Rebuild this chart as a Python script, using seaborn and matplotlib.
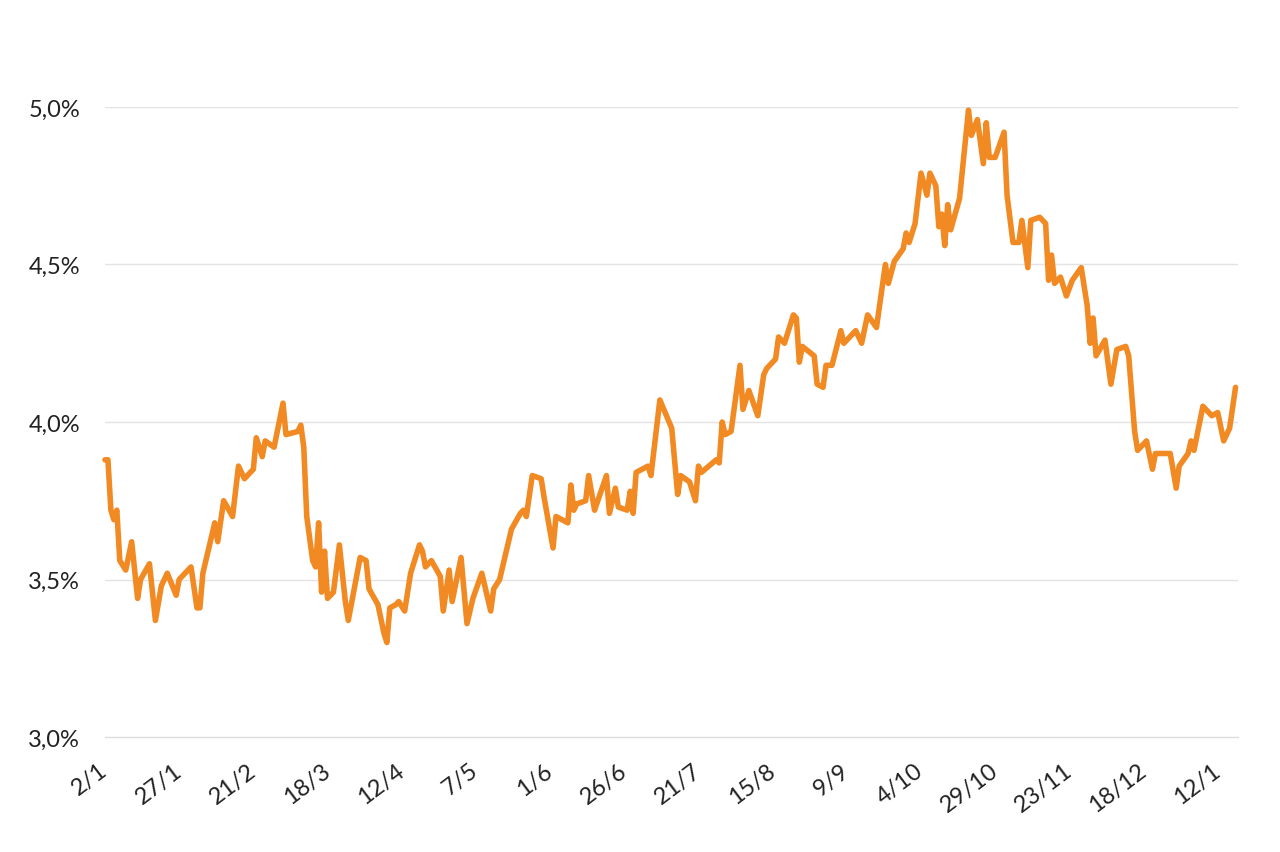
import matplotlib
matplotlib.use("Agg")
import matplotlib.pyplot as plt
import seaborn as sns
import pandas as pd

dates = [
    "2023-01-02", "2023-01-03", "2023-01-04", "2023-01-05", "2023-01-06", "2023-01-07",
    "2023-01-09", "2023-01-11", "2023-01-13", "2023-01-14", "2023-01-17", "2023-01-19",
    "2023-01-21", "2023-01-23", "2023-01-26", "2023-01-27", "2023-01-31", "2023-02-02",
    "2023-02-03", "2023-02-04", "2023-02-08", "2023-02-09", "2023-02-11", "2023-02-14",
    "2023-02-16", "2023-02-18", "2023-02-21", "2023-02-22", "2023-02-24", "2023-02-25",
    "2023-02-28", "2023-03-03", "2023-03-04", "2023-03-08", "2023-03-09", "2023-03-10",
    "2023-03-11", "2023-03-13", "2023-03-14", "2023-03-15", "2023-03-16", "2023-03-17",
    "2023-03-18", "2023-03-20", "2023-03-22", "2023-03-24", "2023-03-25", "2023-03-29",
    "2023-03-31", "2023-04-01", "2023-04-04", "2023-04-06", "2023-04-07", "2023-04-08",
    "2023-04-10", "2023-04-11", "2023-04-13", "2023-04-15", "2023-04-18", "2023-04-19",
    "2023-04-20", "2023-04-22", "2023-04-25", "2023-04-26", "2023-04-28", "2023-04-29",
    "2023-05-02", "2023-05-04", "2023-05-06", "2023-05-09", "2023-05-12", "2023-05-13",
    "2023-05-15", "2023-05-17", "2023-05-19", "2023-05-22", "2023-05-23", "2023-05-24",
    "2023-05-26", "2023-05-29", "2023-05-30", "2023-06-02", "2023-06-03", "2023-06-07",
    "2023-06-08", "2023-06-09", "2023-06-10", "2023-06-13", "2023-06-14", "2023-06-16",
    "2023-06-20", "2023-06-21", "2023-06-23", "2023-06-24", "2023-06-27", "2023-06-28",
    "2023-06-29", "2023-06-30", "2023-07-04", "2023-07-05", "2023-07-08", "2023-07-12",
    "2023-07-14", "2023-07-15", "2023-07-18", "2023-07-20", "2023-07-21", "2023-07-22",
    "2023-07-27", "2023-07-28", "2023-07-29", "2023-07-30", "2023-08-01", "2023-08-04",
    "2023-08-05", "2023-08-07", "2023-08-10", "2023-08-12", "2023-08-13", "2023-08-16",
    "2023-08-17", "2023-08-19", "2023-08-22", "2023-08-23", "2023-08-24", "2023-08-25",
    "2023-08-29", "2023-08-30", "2023-09-01", "2023-09-02", "2023-09-04", "2023-09-07",
    "2023-09-08", "2023-09-12", "2023-09-14", "2023-09-16", "2023-09-19", "2023-09-22",
    "2023-09-23", "2023-09-25", "2023-09-28", "2023-09-29", "2023-09-30", "2023-10-02",
    "2023-10-04", "2023-10-06", "2023-10-07", "2023-10-09", "2023-10-10", "2023-10-11",
    "2023-10-12", "2023-10-13", "2023-10-14", "2023-10-17", "2023-10-20", "2023-10-21",
    "2023-10-23", "2023-10-25", "2023-10-26", "2023-10-27", "2023-10-29", "2023-11-01",
    "2023-11-02", "2023-11-04", "2023-11-06", "2023-11-07", "2023-11-09", "2023-11-10",
    "2023-11-13", "2023-11-15", "2023-11-16", "2023-11-17", "2023-11-18", "2023-11-20",
    "2023-11-22", "2023-11-24", "2023-11-27", "2023-11-29", "2023-11-30", "2023-12-01",
    "2023-12-02", "2023-12-05", "2023-12-07", "2023-12-09", "2023-12-12", "2023-12-13",
    "2023-12-15", "2023-12-16", "2023-12-19", "2023-12-21", "2023-12-22", "2023-12-27",
    "2023-12-29", "2023-12-30", "2024-01-02", "2024-01-03", "2024-01-04", "2024-01-07",
    "2024-01-10", "2024-01-12", "2024-01-14", "2024-01-16", "2024-01-18",
]

yields = [
    3.88, 3.88, 3.72, 3.69, 3.72, 3.56,
    3.53, 3.62, 3.44, 3.50, 3.55, 3.37,
    3.48, 3.52, 3.45, 3.50, 3.54, 3.41,
    3.41, 3.52, 3.68, 3.62, 3.75, 3.70,
    3.86, 3.82, 3.85, 3.95, 3.89, 3.94,
    3.92, 4.06, 3.96, 3.97, 3.99, 3.92,
    3.70, 3.56, 3.54, 3.68, 3.46, 3.59,
    3.44, 3.46, 3.61, 3.43, 3.37, 3.57,
    3.56, 3.47, 3.42, 3.33, 3.30, 3.41,
    3.42, 3.43, 3.40, 3.52, 3.61, 3.59,
    3.54, 3.56, 3.51, 3.40, 3.53, 3.43,
    3.57, 3.36, 3.44, 3.52, 3.40, 3.47,
    3.50, 3.58, 3.66, 3.71, 3.72, 3.70,
    3.83, 3.82, 3.76, 3.60, 3.70, 3.68,
    3.80, 3.72, 3.74, 3.75, 3.83, 3.72,
    3.83, 3.71, 3.79, 3.73, 3.72, 3.78,
    3.71, 3.84, 3.86, 3.83, 4.07, 3.98,
    3.77, 3.83, 3.81, 3.75, 3.86, 3.84,
    3.88, 3.87, 4.00, 3.96, 3.97, 4.18,
    4.04, 4.10, 4.02, 4.15, 4.17, 4.20,
    4.27, 4.25, 4.34, 4.33, 4.19, 4.24,
    4.21, 4.12, 4.11, 4.18, 4.18, 4.29,
    4.25, 4.29, 4.25, 4.34, 4.30, 4.50,
    4.44, 4.51, 4.55, 4.60, 4.57, 4.63,
    4.79, 4.72, 4.79, 4.75, 4.62, 4.66,
    4.56, 4.69, 4.61, 4.71, 4.99, 4.91,
    4.96, 4.82, 4.95, 4.84, 4.84, 4.92,
    4.72, 4.57, 4.57, 4.64, 4.49, 4.64,
    4.65, 4.63, 4.45, 4.53, 4.44, 4.46,
    4.40, 4.45, 4.49, 4.37, 4.25, 4.33,
    4.21, 4.26, 4.12, 4.23, 4.24, 4.21,
    3.97, 3.91, 3.94, 3.85, 3.90, 3.90,
    3.79, 3.86, 3.90, 3.94, 3.91, 4.05,
    4.02, 4.03, 3.94, 3.98, 4.11,
]

tick_dates = [
    "2023-01-02", "2023-01-27", "2023-02-21", "2023-03-18", "2023-04-12", "2023-05-07",
    "2023-06-01", "2023-06-26", "2023-07-21", "2023-08-15", "2023-09-09", "2023-10-04",
    "2023-10-29", "2023-11-23", "2023-12-18", "2024-01-12",
]
tick_labels = ["2/1", "27/1", "21/2", "18/3", "12/4", "7/5", "1/6", "26/6",
               "21/7", "15/8", "9/9", "4/10", "29/10", "23/11", "18/12", "12/1"]
y_ticks = [3.0, 3.5, 4.0, 4.5, 5.0]
y_labels = ["3,0%", "3,5%", "4,0%", "4,5%", "5,0%"]

df = pd.DataFrame({"date": pd.to_datetime(dates), "yield": yields})

sns.set_style("white")
plt.rcParams["font.family"] = ["Lato", "DejaVu Sans"]

fig = plt.figure(figsize=(12.8, 8.53), dpi=100)
ax = fig.add_axes([0.082, 0.1348, 0.885, 0.7386])

sns.lineplot(data=df, x="date", y="yield", ax=ax, color="#F28A24", linewidth=4.0,
             clip_on=False, zorder=3)
for ln in ax.lines:
    ln.set_solid_joinstyle("round")
    ln.set_solid_capstyle("round")

ax.set_ylim(3.0, 5.0)
ax.set_xlim(pd.Timestamp("2023-01-02"), pd.Timestamp("2024-01-18 18:00"))
ax.set_yticks(y_ticks)
ax.set_yticklabels(y_labels, fontsize=17, color="#222222")
ax.set_xticks(pd.to_datetime(tick_dates))
ax.set_xticklabels(tick_labels, fontsize=17, color="#222222", rotation=37,
                   ha="right", va="center", rotation_mode="anchor")

for v in y_ticks[1:]:
    ax.axhline(v, color="#E3E3E3", linewidth=1.0, zorder=1)

for s in ["left", "right", "top"]:
    ax.spines[s].set_visible(False)
ax.spines["bottom"].set_color("#DDDDDD")
ax.spines["bottom"].set_linewidth(1.0)

ax.tick_params(axis="y", length=0, pad=18)
ax.tick_params(axis="x", length=8, color="#DDDDDD", width=1, pad=14)
ax.set_xlabel("")
ax.set_ylabel("")

fig.savefig("out.png", dpi=100, facecolor="white")
